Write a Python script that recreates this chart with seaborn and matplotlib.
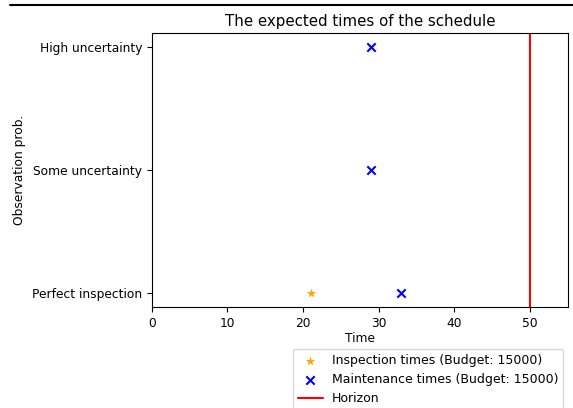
import matplotlib
matplotlib.use("Agg")
import matplotlib.pyplot as plt
from matplotlib.lines import Line2D
import seaborn as sns
import pandas as pd

categories = ["Perfect inspection", "Some uncertainty", "High uncertainty"]
inspection_times = [21]
inspection_cats = ["Perfect inspection"]
maintenance_times = [33, 29, 29]
maintenance_cats = ["Perfect inspection", "Some uncertainty", "High uncertainty"]
horizon = 50
xticks = [0, 10, 20, 30, 40, 50]

sns.set_style("ticks")
plt.rcParams['font.family'] = ['DejaVu Sans']
plt.rcParams.update({
    "font.size": 8.8,
    "text.color": "black",
    "axes.labelcolor": "black",
    "xtick.color": "black",
    "ytick.color": "black",
    "xtick.labelsize": 8.8,
    "ytick.labelsize": 8.8,
    "axes.labelsize": 8.8,
    "axes.titlesize": 10.8,
    "legend.fontsize": 9,
})

fig = plt.figure(figsize=(5.73, 4.08), dpi=100)
ax = fig.add_axes([0.265, 0.248, 0.726, 0.671])

pos = {c: i for i, c in enumerate(categories)}
df_i = pd.DataFrame({"t": inspection_times, "y": [pos[c] for c in inspection_cats]})
df_m = pd.DataFrame({"t": maintenance_times, "y": [pos[c] for c in maintenance_cats]})

sns.scatterplot(data=df_i, x="t", y="y", marker="*", color="orange", s=50,
                linewidth=0, ax=ax, label="Inspection times (Budget: 15000)")
sns.scatterplot(data=df_m, x="t", y="y", marker="x", color="blue", s=36,
                linewidth=1.5, ax=ax, label="Maintenance times (Budget: 15000)")
ax.axvline(horizon, color="red", label="Horizon")

ax.set_xlim(0, 55)
ax.set_ylim(-0.11, 2.11)
ax.set_xticks(xticks)
ax.set_yticks(range(len(categories)))
ax.set_yticklabels(categories)
ax.set_xlabel("Time", labelpad=2)
ax.set_ylabel("Observation prob.")
ax.set_title("The expected times of the schedule", color="black", pad=5)
for s in ax.spines.values():
    s.set_visible(True)
    s.set_color("black")
    s.set_linewidth(0.8)

ax.legend(loc="upper left", bbox_to_anchor=(0.511, 0.145), bbox_transform=fig.transFigure,
          frameon=True, handletextpad=0.7, borderaxespad=0)

fig.add_artist(Line2D([10/573, 1.0], [1 - 5/408, 1 - 5/408], color="black", lw=1.5,
                      transform=fig.transFigure))

fig.savefig("out.png", dpi=100)
